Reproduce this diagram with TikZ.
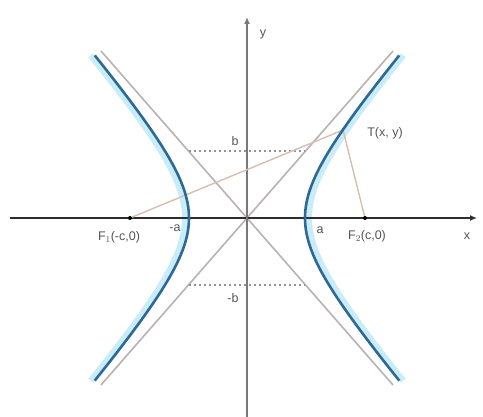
\documentclass[tikz,border=0pt]{standalone}
\usepackage{fontspec}
\setmainfont{Liberation Sans}
\usetikzlibrary{arrows.meta}
\definecolor{axisdark}{RGB}{45,45,45}
\definecolor{axisgray}{RGB}{120,120,120}
\definecolor{curveblue}{RGB}{45,105,150}
\definecolor{haloblue}{RGB}{200,236,248}
\definecolor{asymcol}{RGB}{185,178,178}
\definecolor{focalcol}{RGB}{215,190,175}
\definecolor{labelgray}{RGB}{85,85,85}
\tikzset{
  axisline/.style={line width=2.6pt,draw=axisdark,-{Latex[length=7pt,width=6pt]}},
  yaxisline/.style={line width=2.6pt,draw=axisgray,-{Latex[length=7pt,width=6pt]}},
  curveline/.style={line width=2.6pt,draw=curveblue},
  haloline/.style={line width=6pt,draw=haloblue},
  asymline/.style={line width=1.6pt,draw=asymcol},
  focalline/.style={line width=1.4pt,draw=focalcol},
  dotline/.style={line width=1.8pt,draw=axisgray!80,dash pattern=on 2pt off 3pt},
  lbl/.style={font=\fontsize{12.5}{14}\selectfont,text=labelgray,inner sep=0pt},
  focusdot/.style={circle,fill=black,inner sep=0pt,minimum size=4pt}
}
\begin{document}
\begin{tikzpicture}[x=1pt,y=-1pt]
\useasboundingbox[fill=white] (0,0) rectangle (483,417);
% key points
\coordinate (O) at (247,218);
\coordinate (XL) at (10,218);
\coordinate (XR) at (477,218);
\coordinate (YB) at (247,417);
\coordinate (YT) at (247,17);
\coordinate (AUL) at (101,51);
\coordinate (ALR) at (393,385);
\coordinate (AUR) at (393,51);
\coordinate (ALL) at (101,385);
\coordinate (BL) at (189,151);
\coordinate (BR) at (305,151);
\coordinate (NBL) at (189,285);
\coordinate (NBR) at (305,285);
\coordinate (T) at (343,130);
% halo of the hyperbola
\draw[haloline] plot[domain=-1.62:1.62,samples=70] ({251+58*cosh(\x)},{218-67*sinh(\x)});
\draw[haloline] plot[domain=-1.62:1.62,samples=70] ({243-58*cosh(\x)},{218-67*sinh(\x)});
% asymptotes
\draw[asymline] (AUL) -- (O) -- (ALR);
\draw[asymline] (ALL) -- (O) -- (AUR);
% dotted lines b and -b
\draw[dotline] (BL) -- (BR);
\draw[dotline] (NBL) -- (NBR);
% axes
\draw[axisline] (XL) -- (XR);
\draw[yaxisline] (YB) -- (YT);
% foci
\node[focusdot] (F1) at (130,218) {};
\node[focusdot] (F2) at (365,218) {};
% focal radii
\draw[focalline] (F1) -- (T) -- (F2);
% hyperbola
\draw[curveline] plot[domain=-1.62:1.62,samples=70] ({247+58*cosh(\x)},{218-67*sinh(\x)});
\draw[curveline] plot[domain=-1.62:1.62,samples=70] ({247-58*cosh(\x)},{218-67*sinh(\x)});
% labels
\node[lbl] (ly) at (263,34) {y};
\node[lbl] (lx) at (467,236) {x};
\node[lbl] (lb) at (235,141) {b};
\node[lbl] (lnb) at (233,298) {-b};
\node[lbl] (lna) at (175,228) {-a};
\node[lbl] (la) at (320,230) {a};
\node[lbl] (lF1) at (119,237) {F$_1$(-c,0)};
\node[lbl] (lF2) at (367,236) {F$_2$(c,0)};
\node[lbl] (lT) at (385,133) {T(x, y)};
\end{tikzpicture}
\end{document}
